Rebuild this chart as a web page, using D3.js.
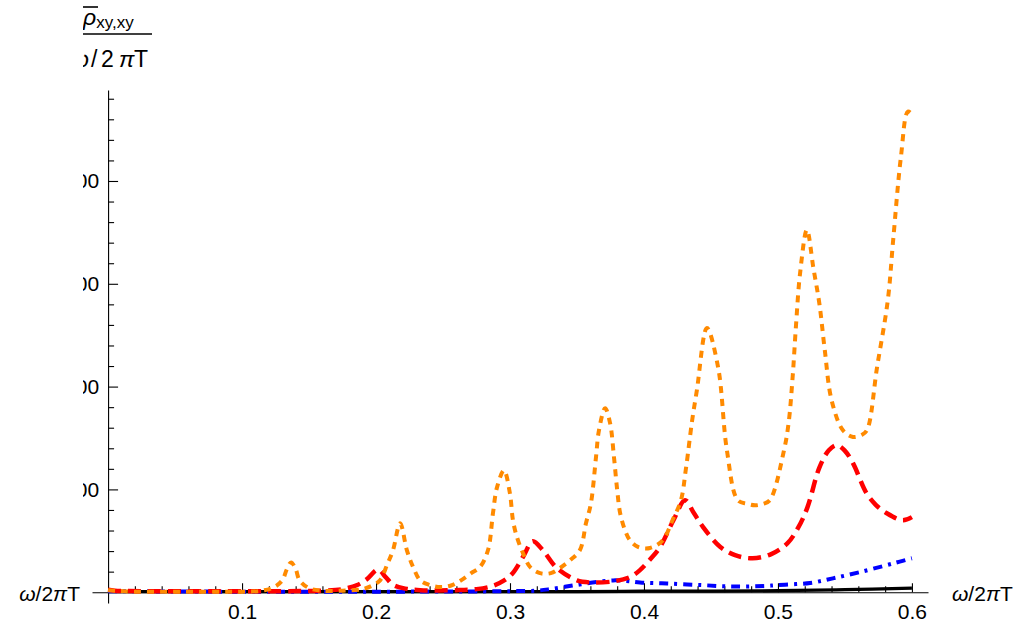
<!DOCTYPE html>
<html><head><meta charset="utf-8">
<script src="https://cdn.jsdelivr.net/npm/d3@7"></script>
<style>
body{margin:0;background:#fff}
svg{display:block}
text{font-family:"Liberation Sans",Arial,Helvetica,sans-serif;fill:#000}
</style>
</head><body>
<svg id="chart" width="1027" height="627"></svg>
<script>
// ---- data (x in ω/2πT, value) ----
const orangeX=[0,0.005,0.02,0.05,0.08,0.10,0.115,0.124,0.130,0.1335,0.1366,0.140,0.143,0.150,0.160,0.175,0.190,0.198,0.203,0.2085,0.2127,0.218,0.223,0.2275,0.233,0.240,0.248,0.256,0.264,0.271,0.2776,0.2836,0.2873,0.2903,0.2955,0.2999,0.3022,0.3052,0.3097,0.315,0.3224,0.3305,0.3373,0.3448,0.3522,0.3567,0.3604,0.3642,0.3664,0.371,0.3747,0.3776,0.380,0.3822,0.3858,0.3896,0.3955,0.4045,0.414,0.4213,0.4276,0.4313,0.436,0.4395,0.447,0.4553,0.4619,0.470,0.477,0.483,0.489,0.494,0.5045,0.508,0.511,0.5135,0.5165,0.5216,0.5265,0.531,0.535,0.540,0.5485,0.556,0.5625,0.5664,0.574,0.582,0.586,0.5918,0.597,0.600];
const orangeY=[4,3,1,1,1,1,3,10,23,45,58,45,23,8,3,3,6,14,23,55,82,134,82,50,23,14,10,13,24,37,49,82,154,204,237,193,140,107,76,49,37,37,47,62,82,134,173,263,315,358,329,263,199,154,121,101,88,86,101,140,179,240,335,393,514,438,276,179,172,169,172,179,276,330,420,520,620,705,630,560,470,374,315,302,306,315,438,568,685,847,935,930];

const redX=[0,0.005,0.03,0.08,0.13,0.16,0.175,0.186,0.193,0.2015,0.207,0.213,0.222,0.233,0.26,0.275,0.287,0.295,0.302,0.31,0.317,0.325,0.335,0.35,0.36,0.377,0.39,0.397,0.405,0.412,0.422,0.4306,0.437,0.444,0.457,0.468,0.481,0.495,0.507,0.515,0.522,0.531,0.538,0.544,0.550,0.556,0.566,0.573,0.581,0.593,0.600];
const redY=[5,3,2,2,2,3,6,14,25,44,30,14,7,4,4,6,12,22,37,70,99,80,47,23,19,21,30,43,65,88,140,179,155,127,88,72,66,74,95,125,165,243,276,286,275,251,193,170,154,140,146];

const blueX=[0,0.1,0.2,0.3,0.32,0.33,0.342,0.352,0.365,0.377,0.387,0.397,0.417,0.442,0.466,0.49,0.5,0.524,0.541,0.561,0.586,0.600];
const blueY=[2,1,1,2,3,6,11,15,20,23,22,19,17,14,11,12,14,18,27,39,56,66];

const blackX=[0,0.2,0.35,0.4,0.45,0.5,0.55,0.6];
const blackY=[1,1,1,2,2,3,5,8];

const yMajor=[200,400,600,800];
const yTickLabels=["200","400","600","800"];
const yMinor=[40,80,120,160,240,280,320,360,440,480,520,560,640,680,720,760,840,880,920,960];
const xMajor=[0.1,0.2,0.3,0.4,0.5,0.6];
const xTickLabels=["0.1","0.2","0.3","0.4","0.5","0.6"];
const xMinor=[0.02,0.04,0.06,0.08,0.12,0.14,0.16,0.18,0.22,0.24,0.26,0.28,0.32,0.34,0.36,0.38,0.42,0.44,0.46,0.48,0.52,0.54,0.56,0.58];

// ---- scales ----
const svg=d3.select("#chart");
const x=d3.scaleLinear().domain([-0.012,0.612]).range([92,928]);
const y=d3.scaleLinear().domain([-21,977]).range([603,90]);

svg.append("defs").append("clipPath").attr("id","lclip")
  .append("rect").attr("x",83).attr("y",0).attr("width",944).attr("height",627);

// ---- axes ----
const gx=svg.append("g").attr("transform",`translate(0,${y(0)})`);
gx.call(d3.axisBottom(x).tickValues(xMinor).tickSize(-6).tickSizeOuter(0).tickFormat(""));
const gx2=svg.append("g").attr("transform",`translate(0,${y(0)})`);
gx2.call(d3.axisBottom(x).tickValues(xMajor).tickSize(-9).tickSizeOuter(0)
   .tickPadding(12).tickFormat((d,i)=>xTickLabels[i]));
gx2.select(".domain").remove();
[gx,gx2].forEach(g=>{
  g.selectAll("text").style("font-size","21px").attr("fill","#000");
  g.selectAll("path,line").attr("stroke","#000").attr("stroke-width",1.1);
});

const gy=svg.append("g").attr("transform",`translate(${x(0)},0)`);
gy.call(d3.axisLeft(y).tickValues(yMinor).tickSize(-6).tickSizeOuter(0).tickFormat(""));
const wrap=svg.append("g").attr("clip-path","url(#lclip)");
const gyM=wrap.append("g").attr("transform",`translate(${x(0)},0)`);
gyM.call(d3.axisLeft(y).tickValues(yMajor).tickSize(-10).tickSizeOuter(0)
   .tickPadding(9).tickFormat((d,i)=>yTickLabels[i]));
gyM.select(".domain").remove();
gyM.selectAll("text").style("font-size","21px").attr("fill","#000");
[gy,gyM].forEach(g=>g.selectAll("path,line").attr("stroke","#000").attr("stroke-width",1.1));

// ---- series ----
const line=d3.line().x(d=>x(d[0])).y(d=>y(d[1])).curve(d3.curveCatmullRom.alpha(0.5));
function series(xs,ys,color,width,dash){
  svg.append("path").datum(xs.map((v,i)=>[v,ys[i]]))
    .attr("d",line).attr("fill","none").attr("stroke",color)
    .attr("stroke-width",width).attr("stroke-dasharray",dash||null)
    .attr("stroke-linecap","butt").attr("stroke-linejoin","round");
}
series(blackX,blackY,"#000",3.2,null);
series(blueX,blueY,"#0000ff",4,"9,6,3,6");
series(redX,redY,"#ff0000",4.5,"13,7");
series(orangeX,orangeY,"#ff8a00",4,"7,6");

// ---- axis labels ----
function omegaLabel(xp,yp,anchor){
  const t=svg.append("text").attr("x",xp).attr("y",yp).attr("text-anchor",anchor).style("font-size","21px");
  t.append("tspan").style("font-style","italic").text("ω");
  t.append("tspan").text("/2");
  t.append("tspan").style("font-style","italic").text("π");
  t.append("tspan").text("T");
  return t;
}
omegaLabel(952,601,"start");
omegaLabel(80,601,"end");

const ttl=svg.append("g").attr("clip-path","url(#lclip)");
const num=ttl.append("text").attr("x",83).attr("y",25).style("font-size","23px");
num.append("tspan").style("font-style","italic").text("ρ");
num.append("tspan").attr("dy",3).style("font-size","17px").text("xy,xy");
ttl.append("line").attr("x1",83).attr("x2",98).attr("y1",7).attr("y2",7).attr("stroke","#000").attr("stroke-width",1.6);
ttl.append("line").attr("x1",70).attr("x2",152).attr("y1",34).attr("y2",34).attr("stroke","#000").attr("stroke-width",1.3);
const den=ttl.append("g").style("font-size","23px");
den.append("text").attr("x",89).attr("y",67).attr("text-anchor","end").style("font-style","italic").text("ω");
den.append("text").attr("x",91).attr("y",67).text("/");
den.append("text").attr("x",101).attr("y",67).text("2");
den.append("text").attr("x",119).attr("y",67).style("font-style","italic").text("π");
den.append("text").attr("x",134).attr("y",67).text("T");
</script>
</body></html>
